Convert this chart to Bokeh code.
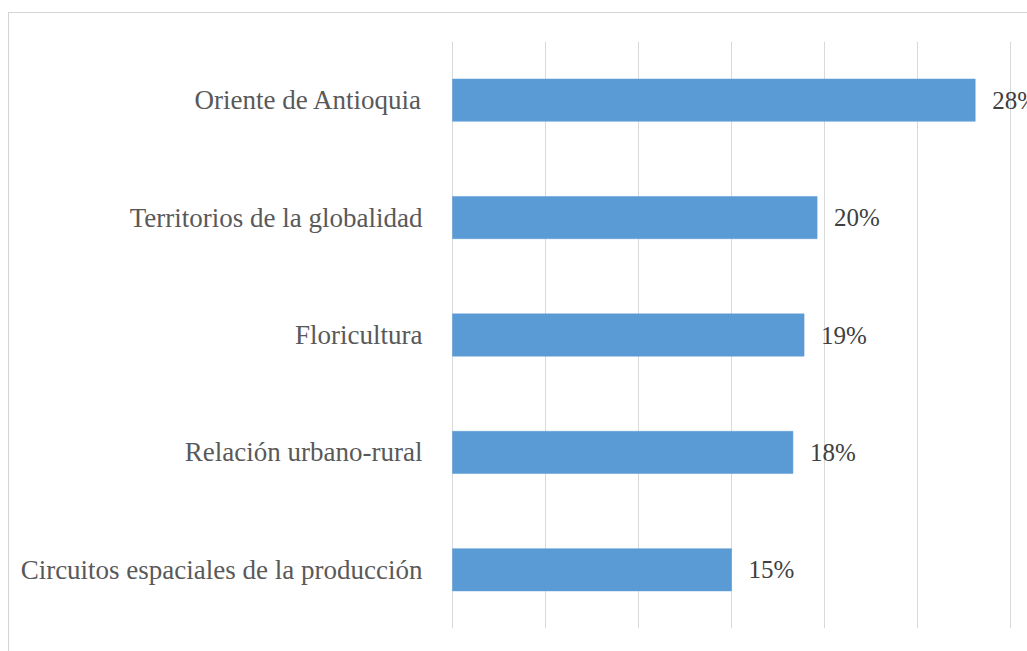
from bokeh.plotting import figure
from bokeh.models import ColumnDataSource, FactorRange, Range1d, FixedTicker, LabelSet
from bokeh.core.properties import value
from bokeh.embed import file_html
from bokeh.resources import INLINE

categories = [
    "Oriente de Antioquia",
    "Territorios de la globalidad",
    "Floricultura",
    "Relación urbano-rural",
    "Circuitos espaciales de la producción",
]
values = [28.1, 19.6, 18.9, 18.3, 15.0]
value_labels = ["28%", "20%", "19%", "18%", "15%"]
x_ticks = [0, 5, 10, 15, 20, 25, 30]

source = ColumnDataSource(dict(cat=categories, val=values, lab=value_labels))

p = figure(
    width=1019,
    height=639,
    output_backend="svg",
    toolbar_location=None,
    y_range=FactorRange(*reversed(categories)),
    x_range=Range1d(-0.054, 30.91),
    min_border_left=443,
    min_border_right=0,
    min_border_top=29,
    min_border_bottom=23,
)
p.margin = (12, 0, 0, 8)
p.styles = {"box-shadow": "inset 1px 1px 0 0 #d4d4d4"}
p.border_fill_color = None
p.background_fill_color = "white"
p.outline_line_color = None

p.hbar(y="cat", left=0, right="val", height=0.36, source=source,
       fill_color="#5B9BD5", line_color="#5B9BD5", line_width=0.5)

labels = LabelSet(x="val", y="cat", text="lab", source=source,
                  x_offset=17, text_baseline="middle", text_align="left",
                  text_font=value("Liberation Serif"), text_font_size="25px",
                  text_color="#404040")
p.add_layout(labels)

p.xaxis.ticker = FixedTicker(ticks=x_ticks)
p.xaxis.visible = False
p.xgrid.ticker = FixedTicker(ticks=x_ticks)
p.xgrid.grid_line_color = "#d9d9d9"
p.xgrid.grid_line_width = 1
p.ygrid.visible = False

yax = p.yaxis[0]
yax.axis_line_color = None
yax.major_tick_line_color = None
yax.minor_tick_line_color = None
yax.major_tick_out = 0
yax.major_tick_in = 0
yax.major_label_standoff = 29
yax.major_label_text_font = "Liberation Serif"
yax.major_label_text_font_size = "27px"
yax.major_label_text_color = "#595959"

open("out.html", "w").write(file_html(p, INLINE))
